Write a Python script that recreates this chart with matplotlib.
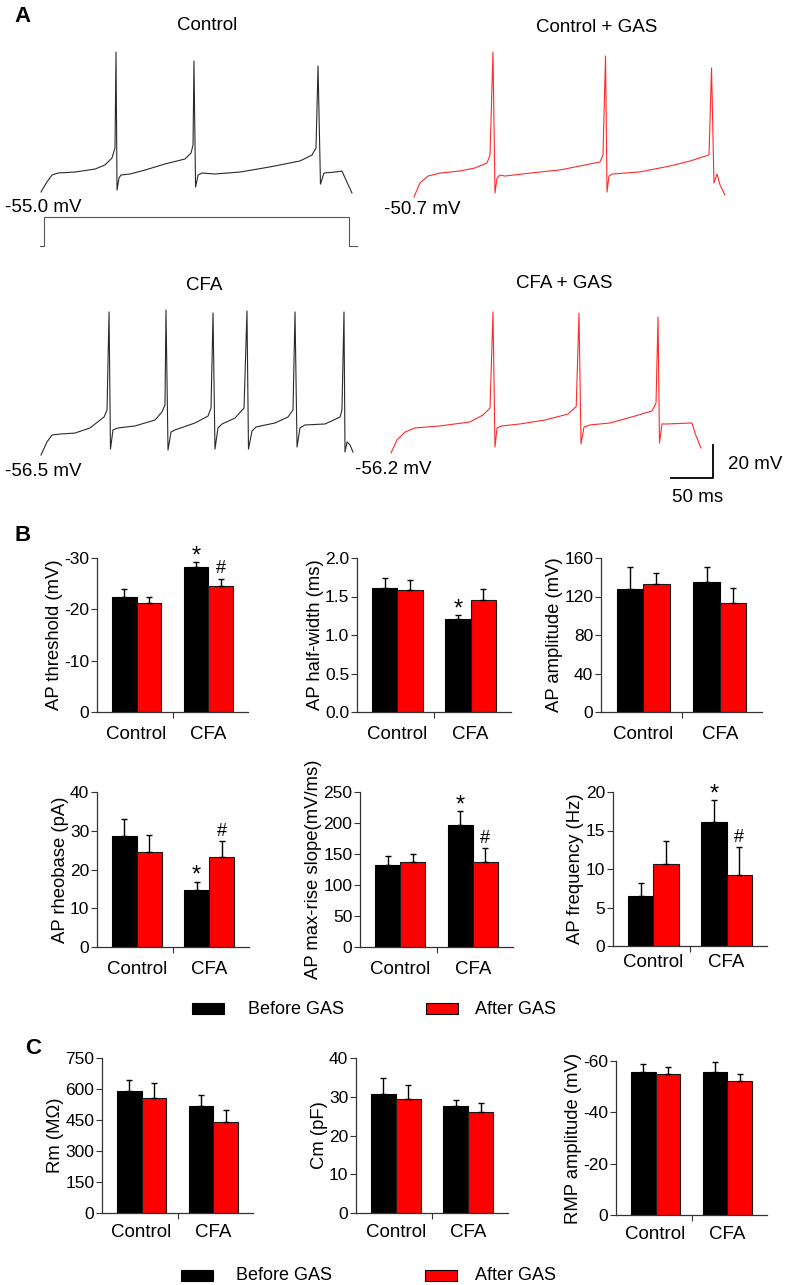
import numpy as np
import matplotlib
matplotlib.use('Agg')
import matplotlib.pyplot as plt
from matplotlib.patches import Rectangle

plt.rcParams['font.family'] = ['Liberation Sans', 'DejaVu Sans']
plt.rcParams['axes.unicode_minus'] = False

W, H = 787, 1285
PX_MS, PX_MV = 0.84, 1.65   # trace scale: pixels per ms / per mV

# ---------------- panel A traces (key points, ms / mV) ----------------
ctrl_t = [0, 7.1, 13.1, 20.2, 40.5, 64.3, 76.2, 84.5, 88.1, 89.3, 90.5, 92.9, 95.2, 106, 123.8,
          147.6, 171.4, 178.6, 181, 182.1, 184, 187, 191.7, 207, 237, 272.6, 308.3, 322.6,
          327.4, 329.8, 332.7, 336.9, 350, 358.3, 363.1, 370.2]
ctrl_v = [-55.0, -48.9, -44.7, -43.5, -42.9, -41.1, -38.6, -34.4, -28.3, 29.8, -53.8, -46.5,
          -44.7, -44.1, -41.7, -38.0, -35.0, -31.4, -26.5, 24.4, -52.0, -44.7, -43.5, -44.1,
          -42.9, -39.8, -36.2, -32.6, -28.3, 21.4, -50.2, -43.5, -42.9, -42.3, -47.7, -55.6]

ctrl_gas_t = [0, 7.1, 16.7, 31, 54.8, 72.6, 86.9, 90.5, 94, 96.4, 98.8, 102.4, 108.3, 138.1,
              173.8, 197.6, 221.4, 225, 228, 229.8, 232.1, 235.7, 269, 304.8, 328.6, 351.2,
              354.2, 357.1, 360.7, 364.3, 370.2]
ctrl_gas_v = [-50.7, -42.2, -38.0, -36.2, -34.9, -33.1, -30.1, -25.2, 37.2, -48.3, -39.2, -37.4,
              -38.0, -36.2, -34.3, -31.9, -29.5, -25.2, 34.8, -47.7, -38.0, -36.8, -35.5, -31.9,
              -28.9, -25.2, 27.5, -42.2, -36.8, -43.4, -49.5]

cfa_t = [0, 7.1, 13.1, 22.6, 40.5, 58.3, 75, 78.6, 81, 82.7, 85.7, 91.7, 111.9, 135.7, 144,
         147.6, 148.8, 151.2, 154.8, 159.5, 183.3, 198.8, 202.4, 204.8, 207.1, 210.7, 215.5,
         231, 241.7, 245.2, 247, 251.2, 256, 278.6, 294, 300, 302.4, 304.8, 308.3, 314.3,
         338.1, 356, 358.3, 360.7, 361.9, 364.3, 367.9, 371.4]
cfa_v = [-56.5, -48.6, -44.4, -43.8, -43.2, -40.1, -33.5, -29.2, 30.2, -52.9, -41.3, -40.1,
         -38.9, -35.3, -30.4, -26.2, 31.4, -53.5, -42.6, -41.3, -37.1, -32.9, -28.0, 29.6,
         -52.9, -40.1, -37.7, -34.1, -28.0, 30.8, -52.9, -42.0, -39.5, -37.1, -33.5, -29.2,
         30.2, -51.7, -40.1, -38.3, -37.7, -33.5, -29.2, 30.2, -54.7, -48.6, -50.4, -54.7]

cfa_gas_t = [0, 7.1, 16.7, 28.6, 58.3, 94, 109.5, 117.9, 121.4, 123.8, 126.2, 132.1, 153.6,
             183.3, 210.7, 220.5, 223.8, 226.2, 229.8, 236.9, 260.7, 290.5, 310.7, 315.5,
             317.9, 319.6, 322.6, 328.6, 358.3, 361.9, 369]
cfa_gas_v = [-56.2, -48.3, -43.5, -41.0, -39.8, -37.4, -33.2, -28.9, 29.3, -52.6, -41.0, -39.8,
             -38.6, -36.2, -32.6, -28.0, 28.6, -50.7, -40.4, -39.2, -38.0, -33.8, -30.7, -25.9,
             26.2, -50.1, -38.6, -38.6, -38.0, -44.1, -53.2]

stim_t = [-1.2, 3.6, 3.6, 366.7, 366.7, 376.2]
stim_on = [0, 0, 1, 1, 0, 0]

# ---------------- panel B / C bar data (Control, CFA) ----------------
groups = ['Control', 'CFA']

thr_before, thr_before_err = [-22.5, -28.2], [1.5, 1.0]
thr_after, thr_after_err = [-21.2, -24.5], [1.3, 1.5]

hw_before, hw_before_err = [1.61, 1.21], [0.13, 0.05]
hw_after, hw_after_err = [1.58, 1.45], [0.13, 0.15]

amp_before, amp_before_err = [128, 135], [23, 16]
amp_after, amp_after_err = [133, 113], [11, 16]

rheo_before, rheo_before_err = [28.7, 14.7], [4.3, 2.2]
rheo_after, rheo_after_err = [24.4, 23.3], [4.5, 4.1]

slope_before, slope_before_err = [132.8, 196], [13.6, 22.7]
slope_after, slope_after_err = [136.7, 136.7], [13.3, 23.3]

freq_before, freq_before_err = [6.5, 16.1], [1.7, 2.9]
freq_after, freq_after_err = [10.6, 9.2], [3.0, 3.6]

rm_before, rm_before_err = [590, 519], [54, 52]
rm_after, rm_after_err = [558, 439], [73, 59]

cm_before, cm_before_err = [30.6, 27.5], [4.3, 1.6]
cm_after, cm_after_err = [29.3, 26.1], [3.7, 2.3]

rmp_before, rmp_before_err = [-55.8, -55.6], [3.0, 4.1]
rmp_after, rmp_after_err = [-54.8, -52.2], [3.0, 2.7]

fig = plt.figure(figsize=(W / 100, H / 100), dpi=100)


def ftext(x, y, s, **kw):
    kw.setdefault('va', 'center')
    kw.setdefault('fontsize', 13.5)
    fig.text(x / W, 1 - y / H, s, **kw)


def trace_ax(x0, y0, v0, tlim=(-10, 420), vlim=(-95, 45)):
    left = x0 + tlim[0] * PX_MS
    width = (tlim[1] - tlim[0]) * PX_MS
    top = y0 - (vlim[1] - v0) * PX_MV
    height = (vlim[1] - vlim[0]) * PX_MV
    ax = fig.add_axes([left / W, 1 - (top + height) / H, width / W, height / H])
    ax.set_xlim(tlim)
    ax.set_ylim(vlim)
    ax.axis('off')
    return ax


black_tr, red_tr = '#2a2a2a', '#ff2a2a'

ax = trace_ax(41, 192, -55.0)
ax.plot(ctrl_t, ctrl_v, color=black_tr, lw=0.8)
ax.plot(stim_t, -87.7 + 17.5 * np.array(stim_on), color='#555555', lw=0.8)

ax = trace_ax(414, 197, -50.7)
ax.plot(ctrl_gas_t, ctrl_gas_v, color=red_tr, lw=0.8)

ax = trace_ax(41, 455, -56.5)
ax.plot(cfa_t, cfa_v, color=black_tr, lw=0.8)

ax = trace_ax(391, 453, -56.2)
ax.plot(cfa_gas_t, cfa_gas_v, color=red_tr, lw=0.8)
# scale bar: 50 ms x 20 mV
ax.plot([333.3, 383.3, 383.3], [-71.4, -71.4, -51.4], color='black', lw=1.3, clip_on=False)

ftext(14, 16, 'A', fontsize=16, fontweight='bold')
ftext(207, 25, 'Control', ha='center')
ftext(597, 27, 'Control + GAS', ha='center')
ftext(204, 285, 'CFA', ha='center')
ftext(564, 283, 'CFA + GAS', ha='center')
ftext(5, 207, '-55.0 mV')
ftext(384, 210, '-50.7 mV')
ftext(5, 471, '-56.5 mV')
ftext(355, 469, '-56.2 mV')
ftext(728, 464, '20 mV')
ftext(698, 497, '50 ms', ha='center')


# ---------------- bar panels ----------------
XB, XA, XG, XMID = [1.1, 4.0], [2.1, 5.0], [1.6, 4.5], 3.05


def bar_ax(left, right, top, bottom, before, b_err, after, a_err, ylim, yticks, ylabel,
           ytl=None, marks=(None, None), xpad=10):
    ax = fig.add_axes([left / W, 1 - bottom / H, (right - left) / W, (bottom - top) / H])
    ax.bar(XB, before, width=1.0, color='black', edgecolor='black', lw=0.8, zorder=2)
    ax.bar(XA, after, width=1.0, color='#ff0000', edgecolor='#1a1a1a', lw=0.8, zorder=2)
    for xs, vals, errs in ((XB, before, b_err), (XA, after, a_err)):
        for x, v, e in zip(xs, vals, errs):
            yerr = [[e], [0]] if v < 0 else [[0], [e]]
            ax.errorbar([x], [v], yerr=yerr, fmt='none', ecolor='black', elinewidth=1.0,
                        capsize=2.5, capthick=1.0, zorder=3)
    top_b = [v + (-e if v < 0 else e) for v, e in zip(before, b_err)]
    top_a = [v + (-e if v < 0 else e) for v, e in zip(after, a_err)]
    if marks[0]:
        ax.annotate(marks[0], (XB[1], top_b[1]), xytext=(0, 4), textcoords='offset points',
                    ha='center', va='center', fontsize=17)
    if marks[1]:
        ax.annotate(marks[1], (XA[1], top_a[1]), xytext=(0, 7), textcoords='offset points',
                    ha='center', va='center', fontsize=13)
    ax.set_xlim(0, 6.1)
    ax.set_ylim(ylim)
    ax.set_yticks(yticks)
    ax.set_yticklabels(ytl if ytl else [str(t) for t in yticks])
    ax.set_xticks(XG)
    ax.set_xticklabels(groups)
    ax.set_xticks([XMID], minor=True)
    for s in ('top', 'right'):
        ax.spines[s].set_visible(False)
    for s in ('left', 'bottom'):
        ax.spines[s].set_linewidth(0.9)
        ax.spines[s].set_color('#333333')
    ax.tick_params(axis='y', direction='out', length=4, width=0.8, pad=1.5, labelsize=12.5,
                   color='#333333')
    ax.tick_params(axis='x', which='major', length=0, pad=xpad, labelsize=13.5)
    ax.tick_params(axis='x', which='minor', direction='out', length=4, width=0.8,
                   color='#333333')
    ax.set_ylabel(ylabel, fontsize=13.3, labelpad=1)
    return ax


ftext(14, 535, 'B', fontsize=16, fontweight='bold')
bar_ax(97, 248, 558, 712, thr_before, thr_before_err, thr_after, thr_after_err,
       (0, -30), [0, -10, -20, -30], 'AP threshold (mV)', marks=('*', '#'))
bar_ax(357, 511, 558, 712, hw_before, hw_before_err, hw_after, hw_after_err,
       (0, 2.0), [0, 0.5, 1.0, 1.5, 2.0], 'AP half-width (ms)',
       ytl=['0.0', '0.5', '1.0', '1.5', '2.0'], marks=('*', None))
bar_ax(601, 762, 558, 712, amp_before, amp_before_err, amp_after, amp_after_err,
       (0, 160), [0, 40, 80, 120, 160], 'AP amplitude (mV)')

bar_ax(97, 249, 792, 947, rheo_before, rheo_before_err, rheo_after, rheo_after_err,
       (0, 40), [0, 10, 20, 30, 40], 'AP rheobase (pA)', marks=('*', '#'))
bar_ax(360, 513, 792, 947, slope_before, slope_before_err, slope_after, slope_after_err,
       (0, 250), [0, 50, 100, 150, 200, 250], 'AP max-rise slope(mV/ms)', marks=('*', '#'))
bar_ax(613, 767, 792, 946, freq_before, freq_before_err, freq_after, freq_after_err,
       (0, 20), [0, 5, 10, 15, 20], 'AP frequency (Hz)', marks=('*', '#'), xpad=6)


def legend_row(y, x_black, x_btext, x_red, x_rtext):
    for x, c in ((x_black, 'black'), (x_red, '#ff0000')):
        fig.patches.append(Rectangle((x / W, 1 - (y + 5.5) / H), 32 / W, 11 / H,
                                     transform=fig.transFigure, facecolor=c,
                                     edgecolor='black', lw=0.8))
    ftext(x_btext, y + 1, 'Before GAS', fontsize=13)
    ftext(x_rtext, y + 1, 'After GAS', fontsize=13)


legend_row(1008, 192, 248, 426, 475)

ftext(25, 1048, 'C', fontsize=16, fontweight='bold')
bar_ax(102, 253, 1058, 1213, rm_before, rm_before_err, rm_after, rm_after_err,
       (0, 750), [0, 150, 300, 450, 600, 750], 'Rm (M\u03a9)', xpad=8)
bar_ax(356, 508, 1058, 1213, cm_before, cm_before_err, cm_after, cm_after_err,
       (0, 40), [0, 10, 20, 30, 40], 'Cm (pF)', xpad=8)
bar_ax(616, 767, 1061, 1215, rmp_before, rmp_before_err, rmp_after, rmp_after_err,
       (0, -60), [0, -20, -40, -60], 'RMP amplitude (mV)', xpad=8)

legend_row(1275, 181, 236, 425, 475)

fig.savefig('out.png', dpi=100)
